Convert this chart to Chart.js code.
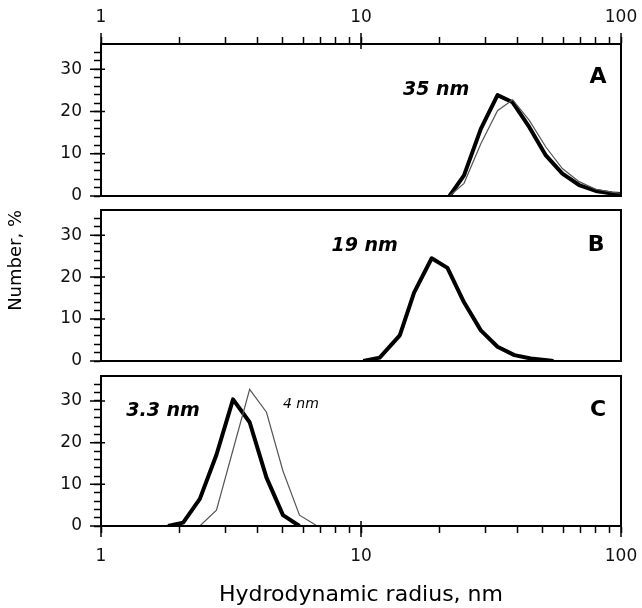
<!DOCTYPE html>
<html>
<head>
<meta charset="utf-8">
<script src="https://cdn.jsdelivr.net/npm/chart.js@4.4.1/dist/chart.umd.min.js"></script>
<style>
  html, body { margin: 0; padding: 0; background: #fff; }
  #wrap { position: relative; width: 642px; height: 608px; }
  #wrap canvas { position: absolute; left: 0; }
</style>
</head>
<body>
<div id="wrap">
  <canvas id="panelA" width="642" height="200" style="top:0px"></canvas>
  <canvas id="panelB" width="642" height="170" style="top:200px"></canvas>
  <canvas id="panelC" width="642" height="242" style="top:366px"></canvas>
</div>
<script>
// hydrodynamic radius bins (nm) and number distribution (%) per panel
const radiusA = [21.9, 24.9, 28.9, 33.5, 38.3, 44.4, 51.4, 59.5, 69, 80, 92.4, 100];
const numberA = [0, 4.9, 15.9, 23.9, 22.2, 16.3, 9.6, 5.3, 2.6, 1.2, 0.6, 0.5];
const numberAThin = [0, 3.0, 12.4, 20.2, 22.8, 17.9, 11.6, 6.5, 3.4, 1.6, 0.9, 0.6];

const radiusB = [10.2, 11.8, 14.1, 16.0, 18.7, 21.5, 24.9, 28.9, 33.5, 38.9, 45, 52, 55];
const numberB = [0, 0.8, 6.1, 16.3, 24.5, 22.2, 14.0, 7.3, 3.4, 1.4, 0.6, 0.2, 0];

const radiusC = [1.81, 2.07, 2.40, 2.78, 3.22, 3.73, 4.33, 5.01, 5.8];
const numberC = [0, 0.8, 6.5, 17.1, 30.4, 24.9, 11.6, 2.6, 0];
const radiusCThin = [2.40, 2.78, 3.22, 3.73, 4.33, 5.01, 5.8, 6.72];
const numberCThin = [0, 3.8, 18.3, 32.8, 27.3, 13.2, 2.6, 0.2];

// axis ticks
const xTicks = [1, 2, 3, 4, 5, 6, 7, 8, 9, 10, 20, 30, 40, 50, 60, 70, 80, 90, 100];
const xLabels = [1, 10, 100];
const yTicks = [0, 2, 4, 6, 8, 10, 12, 14, 16, 18, 20, 22, 24, 26, 28, 30, 32, 34];
const yLabels = [0, 10, 20, 30];

// in-panel notes: text and anchor (radius, %)
const notesA = [['35 nm', 14.5, 23.9], ['A', 88, 26.8]];
const notesB = [['19 nm', 7.7, 26.3], ['B', 86.5, 26.3]];
const notesC = [['3.3 nm', 1.25, 26.3], ['4 nm', 5.01, 28.3], ['C', 87.6, 26.5]];

Chart.defaults.font.family = '"DejaVu Sans", "Liberation Sans", Arial, sans-serif';
Chart.defaults.color = '#111';

const FONT_BIG = 'bold italic 19px "DejaVu Sans", sans-serif';
const FONT_LETTER = 'bold 22px "DejaVu Sans", sans-serif';
const FONT_SMALL = 'italic 14px "DejaVu Sans", sans-serif';

function toPoints(xs, ys) {
    return xs.map((x, i) => ({ x: x, y: ys[i] }));
}

const notesPlugin = {
    id: 'notes',
    afterDatasetsDraw(chart, args, opts) {
        const { ctx } = chart;
        const x = chart.scales.x, y = chart.scales.y;
        ctx.save();
        ctx.fillStyle = '#000';
        ctx.textBaseline = 'alphabetic';
        (opts.items || []).forEach(n => {
            const text = n[0];
            const isLetter = text.length === 1;
            ctx.font = isLetter ? FONT_LETTER : (text === '4 nm' ? FONT_SMALL : FONT_BIG);
            ctx.textAlign = isLetter ? 'right' : 'left';
            ctx.fillText(text, x.getPixelForValue(n[1]), y.getPixelForValue(n[2]));
        });
        ctx.restore();
    }
};

// box around each panel, plus the longer major ticks
const framePlugin = {
    id: 'frame',
    afterDraw(chart, args, opts) {
        const { ctx, chartArea: a } = chart;
        ctx.save();
        ctx.strokeStyle = '#000';
        ctx.lineWidth = 2;
        ctx.strokeRect(a.left, a.top, a.right - a.left, a.bottom - a.top);
        ctx.lineWidth = 1.5;
        ctx.beginPath();
        yLabels.forEach(v => {
            const p = chart.scales.y.getPixelForValue(v);
            ctx.moveTo(a.left - 11, p);
            ctx.lineTo(a.left + 4, p);
        });
        if (opts.edge) {
            const e = opts.edge === 'top' ? a.top : a.bottom;
            const s = opts.edge === 'top' ? -1 : 1;
            xLabels.forEach(v => {
                const p = chart.scales.x.getPixelForValue(v);
                ctx.moveTo(p, e + s * 11);
                ctx.lineTo(p, e - s * 5);
            });
        }
        ctx.stroke();
        ctx.restore();
    }
};

function makePanel(canvasId, datasets, opts) {
    const ctx = document.getElementById(canvasId).getContext('2d');
    const showX = !!opts.edge;

    return new Chart(ctx, {
        type: 'line',
        data: { datasets: datasets },
        options: {
            responsive: false,
            animation: false,
            events: [],
            devicePixelRatio: 1,
            layout: { padding: { top: opts.padTop, bottom: opts.padBottom, left: 0, right: 21 } },
            elements: { point: { radius: 0 }, line: { tension: 0 } },
            scales: {
                x: {
                    type: 'logarithmic',
                    position: opts.edge || 'bottom',
                    display: showX,
                    min: 1,
                    max: 100,
                    afterBuildTicks: s => { s.ticks = xTicks.map(v => ({ value: v })); },
                    afterFit: s => {
                        if (showX) s.height = opts.xHeight;
                        s.paddingLeft = 0;
                        s.paddingRight = 0;
                    },
                    ticks: {
                        autoSkip: false,
                        maxRotation: 0,
                        padding: opts.edge === 'top' ? 9 : 13,
                        color: '#111',
                        font: { size: 17 },
                        callback: v => xLabels.includes(v) ? String(v) : ''
                    },
                    grid: { drawOnChartArea: false, drawTicks: true, tickLength: 7, tickColor: '#000', tickWidth: 1.5 },
                    border: { display: true, color: '#000', width: 2 },
                    title: {
                        display: !!opts.xTitle,
                        text: opts.xTitle || '',
                        color: '#000',
                        font: { size: 22 },
                        padding: { top: 0, bottom: 0 }
                    }
                },
                y: {
                    min: 0,
                    max: 36,
                    afterBuildTicks: s => { s.ticks = yTicks.map(v => ({ value: v })); },
                    afterFit: s => {
                        s.width = 101;
                        s.paddingTop = 0;
                        s.paddingBottom = 0;
                    },
                    ticks: {
                        autoSkip: false,
                        padding: 12,
                        color: '#111',
                        font: { size: 17 },
                        callback: v => yLabels.includes(v) ? String(v) : ''
                    },
                    grid: { drawOnChartArea: false, drawTicks: true, tickLength: 7, tickColor: '#000', tickWidth: 1.5 },
                    border: { display: true, color: '#000', width: 2 },
                    title: {
                        display: !!opts.yTitle,
                        text: opts.yTitle || '',
                        align: 'end',
                        color: '#000',
                        font: { size: 18 },
                        padding: { top: 6, bottom: 0 }
                    }
                }
            },
            plugins: {
                legend: { display: false },
                tooltip: { enabled: false },
                notes: { items: opts.notes },
                frame: { edge: opts.edge }
            }
        },
        plugins: [notesPlugin, framePlugin]
    });
}

const thick = { borderColor: '#000', borderWidth: 4, borderJoinStyle: 'round', fill: false };
const thin = { borderColor: '#555', borderWidth: 1.2, fill: false };

makePanel('panelA', [
    Object.assign({ label: 'A thin', data: toPoints(radiusA, numberAThin) }, thin),
    Object.assign({ label: 'A', data: toPoints(radiusA, numberA) }, thick)
], { edge: 'top', xHeight: 44, padTop: 0, padBottom: 4, notes: notesA });

makePanel('panelB', [
    Object.assign({ label: 'B', data: toPoints(radiusB, numberB) }, thick)
], { padTop: 10, padBottom: 9, notes: notesB, yTitle: 'Number, %' });

makePanel('panelC', [
    Object.assign({ label: 'C thin', data: toPoints(radiusCThin, numberCThin) }, thin),
    Object.assign({ label: 'C', data: toPoints(radiusC, numberC) }, thick)
], { edge: 'bottom', xHeight: 82, padTop: 10, padBottom: 0, notes: notesC, xTitle: 'Hydrodynamic radius, nm' });
</script>
</body>
</html>
